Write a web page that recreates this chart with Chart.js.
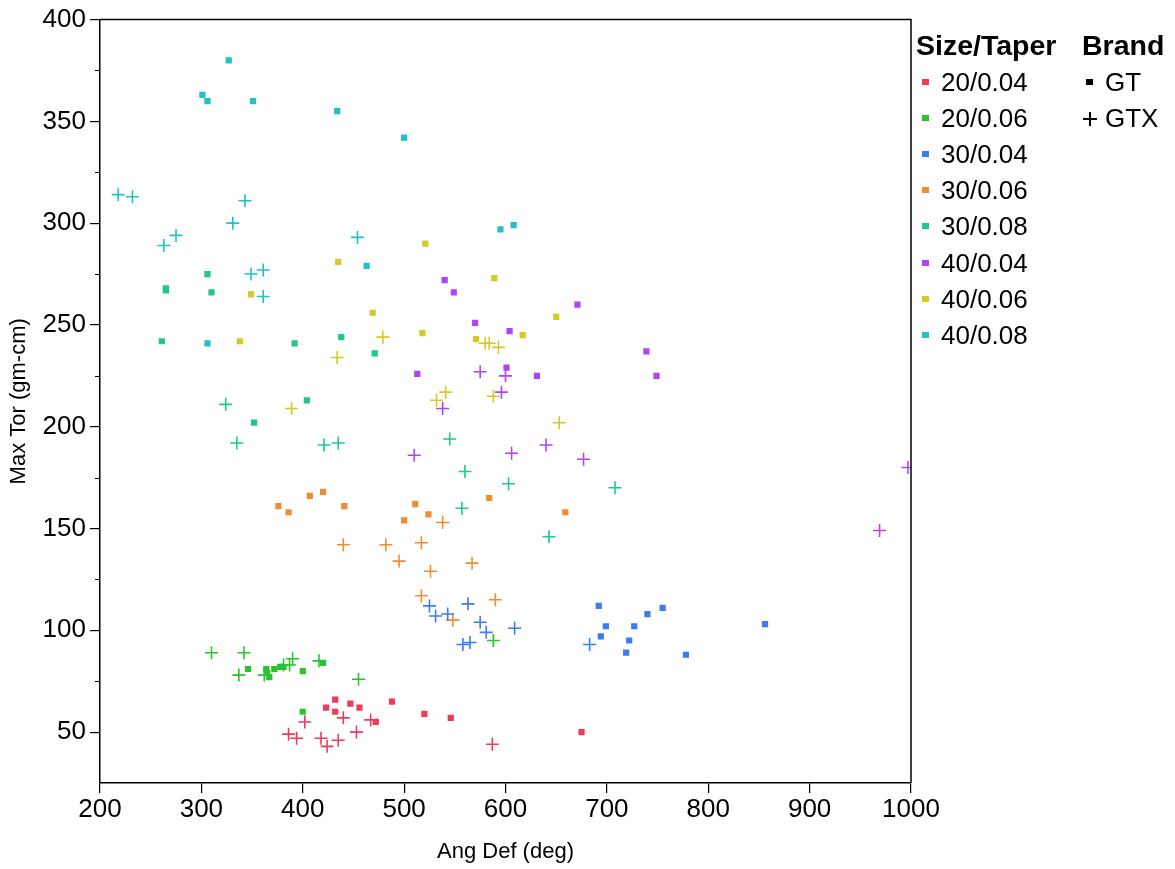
<!DOCTYPE html>
<html>
<head>
<meta charset="utf-8">
<script src="https://cdn.jsdelivr.net/npm/chart.js@4.4.1/dist/chart.umd.min.js"></script>
<style>
  html, body { margin:0; padding:0; background:#fff; }
  #wrap { position:relative; width:1175px; height:869px; font-family:"Liberation Sans", Arial, sans-serif; }
  #c { position:absolute; left:0; top:0; }
  .lg { position:absolute; font-size:26px; line-height:36px; height:36px; color:#000; white-space:nowrap; }
  .lg.title { font-weight:bold; font-size:28.5px; }
  .sw { position:absolute; width:7px; height:6px; }
</style>
</head>
<body>
<div id="wrap">
<canvas id="c" width="1175" height="869"></canvas>
<div id="legend"></div>
</div>
<script>
// ---- Data (Ang Def in deg, Max Tor in gm-cm) ----
const categories = ["20/0.04","20/0.06","30/0.04","30/0.06","30/0.08","40/0.04","40/0.06","40/0.08"];
const brands = ["GT","GTX"];
const colors = ["#EE3B5B","#27C42C","#3C7CF0","#F08C32","#1EC692","#B043F2","#D4C926","#22C0C8"];

const gt_20_004  = [[432,66],[447,64],[456,62],[423,62],[432,60],[488,65],[472,55],[520,59],[546,57],[675,50]];
const gtx_20_004 = [[402,55],[440,57],[467,56],[453,50],[386,49],[394,47],[418,47],[435,46],[424,43],[587,44]];
const gt_20_006  = [[346,81],[364,81],[367,77],[372,81],[378,82],[400,80],[420,84],[400,60],[365,79],[381,82]];
const gtx_20_006 = [[310,89],[342,89],[337,78],[362,78],[390,86],[387,83],[381,83],[416,85],[455,76],[588,95]];
const gt_30_004  = [[692,112],[755,111],[740,108],[699,102],[727,102],[694,97],[722,95],[719,89],[778,88],[856,103]];
const gtx_30_004 = [[525,112],[531,107],[543,108],[563,113],[575,104],[581,99],[558,93],[565,94],[609,101],[683,93]];
const gt_30_006  = [[420,168],[407,166],[376,161],[441,161],[386,158],[511,162],[524,157],[500,154],[659,158],[584,165]];
const gtx_30_006 = [[538,153],[440,142],[482,142],[517,143],[495,134],[526,129],[517,117],[567,133],[590,115],[548,105]];
const gt_30_008  = [[306,275],[265,268],[265,267],[310,266],[261,242],[392,241],[438,244],[471,236],[404,213],[352,202]];
const gtx_30_008 = [[324,211],[335,192],[421,191],[435,192],[545,194],[560,178],[603,172],[708,170],[557,160],[643,146]];
const gt_40_004  = [[540,272],[549,266],[671,260],[570,251],[604,247],[739,237],[513,226],[601,229],[631,225],[749,225]];
const gtx_40_004 = [[575,227],[600,225],[596,217],[538,209],[510,186],[606,187],[640,191],[677,184],[997,180],[969,149]];
const gt_40_006  = [[435,281],[521,290],[349,265],[469,256],[338,242],[589,273],[650,254],[518,246],[571,243],[617,245]];
const gtx_40_006 = [[479,244],[434,234],[389,209],[580,241],[584,241],[593,239],[541,217],[532,213],[588,215],[653,202]];
const gt_40_008  = [[327,380],[301,363],[306,360],[351,360],[434,355],[500,342],[608,299],[595,297],[463,279],[306,241]];
const gtx_40_008 = [[218,314],[232,313],[343,311],[331,300],[275,294],[263,289],[454,293],[349,275],[361,277],[361,264]];

const xTicks = [200,300,400,500,600,700,800,900,1000];
const yTicks = [50,100,150,200,250,300,350,400];
const yMinorTicks = [75,125,175,225,275,325,375];

const gtSets  = [gt_20_004, gt_20_006, gt_30_004, gt_30_006, gt_30_008, gt_40_004, gt_40_006, gt_40_008];
const gtxSets = [gtx_20_004, gtx_20_006, gtx_30_004, gtx_30_006, gtx_30_008, gtx_40_004, gtx_40_006, gtx_40_008];

const datasets = [];
categories.forEach((cat, i) => {
  datasets.push({
    label: cat + " GT",
    data: gtSets[i].map(p => ({x:p[0], y:p[1]})),
    pointStyle: 'rect', pointRadius: 4.4, pointHoverRadius: 4.4,
    backgroundColor: colors[i], borderColor: colors[i], borderWidth: 0, showLine:false
  });
  datasets.push({
    label: cat + " GTX",
    data: gtxSets[i].map(p => ({x:p[0], y:p[1]})),
    pointStyle: 'cross', pointRadius: 6.5, pointHoverRadius: 6.5,
    backgroundColor: colors[i], borderColor: colors[i], borderWidth: 1.6, showLine:false
  });
});

const FONT = "'Liberation Sans', Arial, sans-serif";

const framePlugin = {
  id: 'frame',
  afterDraw(chart) {
    const {ctx, chartArea:a, scales} = chart;
    ctx.save();
    ctx.strokeStyle = '#000';
    ctx.lineWidth = 1.5;
    ctx.beginPath();
    ctx.moveTo(a.left, a.top); ctx.lineTo(a.right, a.top); ctx.lineTo(a.right, a.bottom);
    ctx.stroke();
    // minor y ticks
    ctx.lineWidth = 1.2;
    ctx.beginPath();
    yMinorTicks.forEach(v => {
      const py = Math.round(scales.y.getPixelForValue(v)) + 0.5;
      ctx.moveTo(a.left - 5, py); ctx.lineTo(a.left, py);
    });
    ctx.stroke();
    ctx.restore();
  }
};

new Chart(document.getElementById('c'), {
  type: 'scatter',
  data: { datasets },
  plugins: [framePlugin],
  options: {
    responsive: false,
    animation: false,
    events: [],
    layout: { padding: { left: 0, right: 264, top: 18, bottom: 0 } },
    plugins: { legend: { display:false }, tooltip: { enabled:false } },
    scales: {
      x: {
        type: 'linear', min: 200, max: 1000,
        afterBuildTicks: s => { s.ticks = xTicks.map(v => ({value:v})); },
        afterFit: s => { s.height = 86; },
        grid: { display: true, drawOnChartArea: false, drawTicks: true, tickLength: 10, color: '#000', lineWidth: 1.2 },
        border: { display: true, color: '#000', width: 1.5 },
        ticks: { color: '#000', font: { family: FONT, size: 26 }, padding: 1, maxRotation: 0, callback: v => String(v) },
        title: { display: true, text: 'Ang Def (deg)', color: '#000', font: { family: FONT, size: 22 }, padding: { top: 0, bottom: 4 } }
      },
      y: {
        type: 'linear', min: 25, max: 400,
        afterBuildTicks: s => { s.ticks = yTicks.map(v => ({value:v})); },
        afterFit: s => { s.width = 100; },
        grid: { display: true, drawOnChartArea: false, drawTicks: true, tickLength: 10, color: '#000', lineWidth: 1.2 },
        border: { display: true, color: '#000', width: 1.5 },
        ticks: { color: '#000', font: { family: FONT, size: 26 }, padding: 4, callback: v => String(v) },
        title: { display: true, text: 'Max Tor (gm-cm)', color: '#000', font: { family: FONT, size: 22 }, padding: { top: 6, bottom: 0 } }
      }
    }
  }
});

// ---- HTML legend (real text) ----
const lg = document.getElementById('legend');
function add(html, left, top, cls) {
  const d = document.createElement('div');
  d.className = 'lg' + (cls ? ' ' + cls : '');
  d.style.left = left + 'px'; d.style.top = top + 'px';
  d.innerHTML = html; lg.appendChild(d); return d;
}
add('Size/Taper', 916, 27, 'title');
add('Brand', 1082, 27, 'title');
categories.forEach((cat, i) => {
  const cy = 82 + i * 36.1;
  add(cat, 941, cy - 18);
  const sw = document.createElement('div');
  sw.className = 'sw';
  sw.style.left = '922px'; sw.style.top = (cy - 3) + 'px';
  sw.style.background = colors[i];
  lg.appendChild(sw);
});
add('GT', 1105, 82 - 18);
add('GTX', 1105, 118 - 18);
const gtm = document.createElement('div');
gtm.className = 'sw'; gtm.style.left = '1086px'; gtm.style.top = '79px'; gtm.style.background = '#000';
lg.appendChild(gtm);
const ph = document.createElement('div');
ph.style.cssText = 'position:absolute;left:1083px;top:118px;width:14px;height:2px;background:#000;';
lg.appendChild(ph);
const pv = document.createElement('div');
pv.style.cssText = 'position:absolute;left:1089px;top:112px;width:2px;height:14px;background:#000;';
lg.appendChild(pv);
</script>
</body>
</html>
